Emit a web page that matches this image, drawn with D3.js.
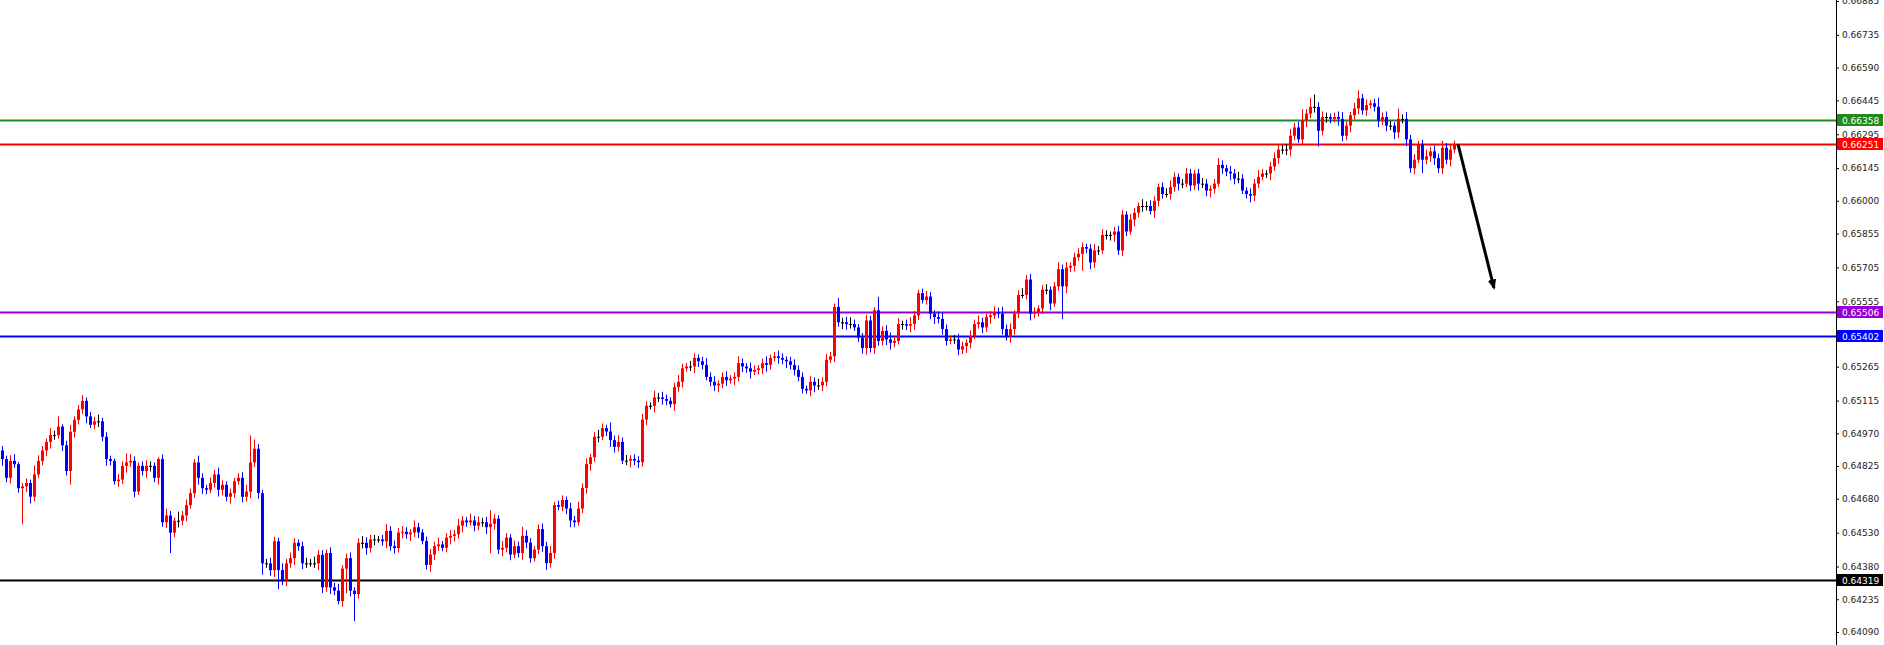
<!DOCTYPE html>
<html>
<head>
<meta charset="utf-8">
<script src="https://cdn.jsdelivr.net/npm/d3@7"></script>
<style>
  html, body { margin: 0; padding: 0; background: #fff; }
  svg { display: block; }
</style>
</head>
<body>
<div id="app"></div>
<script>
'use strict'

// prices are stored as offsets from 0.64000 in 1e-5 units
const base = 0.64

const closes = [
  856,773,848,833,727,735,750,689,788,848,894,932,962,962,1000,917,803,977,1030,1076,
  1114,1045,1008,1023,1023,955,856,848,758,765,826,841,848,712,826,803,826,826,773,856,
  576,606,530,583,583,606,652,705,841,773,727,720,750,788,720,742,689,705,758,773,
  689,712,841,902,705,394,394,364,492,364,318,394,417,485,470,394,394,394,394,432,
  288,440,288,273,227,371,417,273,258,485,485,462,500,500,500,492,538,470,462,530,
  534,523,531,554,531,493,387,433,470,478,463,508,516,523,561,584,576,584,561,576,
  576,554,569,592,455,463,508,433,470,440,516,486,417,455,546,470,395,440,652,645,
  675,637,584,576,637,728,834,864,955,955,993,978,940,910,932,849,849,857,849,842,
  1031,1092,1092,1129,1129,1122,1114,1099,1175,1198,1258,1266,1266,1304,1289,1273,1220,1198,1182,1190,
  1220,1205,1213,1220,1281,1266,1258,1243,1251,1258,1281,1273,1304,1311,1304,1296,1289,1273,1251,1220,
  1167,1160,1198,1182,1182,1198,1296,1311,1530,1462,1462,1454,1454,1439,1394,1348,1470,1348,1515,1379,
  1424,1386,1371,1379,1454,1454,1447,1454,1492,1591,1560,1576,1500,1485,1477,1432,1379,1386,1386,1341,
  1356,1371,1401,1454,1462,1439,1485,1492,1507,1500,1432,1401,1432,1500,1583,1583,1651,1500,1507,1523,
  1606,1606,1545,1621,1697,1621,1704,1712,1750,1765,1795,1788,1727,1780,1780,1849,1849,1849,1864,1780,
  1939,1864,1917,1947,1977,1977,1977,1955,2000,2061,2030,2030,2061,2106,2076,2076,2121,2068,2121,2076,
  2076,2045,2053,2076,2159,2144,2129,2121,2098,2098,2045,2030,2023,2076,2106,2121,2121,2152,2189,2227,
  2227,2227,2288,2325,2272,2356,2386,2416,2416,2310,2371,2371,2363,2371,2363,2288,2333,2379,2409,2454,
  2401,2424,2432,2416,2356,2371,2333,2333,2303,2363,2363,2272,2144,2182,2250,2182,2197,2219,2189,2144,
  2235,2182,2227,2251
]

const wickUp = [
  20,15,25,30,10,15,20,15,40,25,20,15,30,20,45,10,20,30,15,20,
  25,15,20,20,30,15,20,15,10,25,20,40,30,20,15,20,25,20,15,10,
  20,30,20,15,40,20,25,20,15,30,20,15,25,20,30,20,15,20,15,20,
  25,30,120,40,20,15,20,25,20,15,30,20,25,20,15,20,25,20,30,20,
  20,15,25,20,30,15,20,25,15,20,30,25,20,20,15,20,30,20,25,20,
  25,20,15,30,20,15,20,25,20,30,15,20,25,20,30,20,15,30,20,25,
  20,25,60,20,15,30,20,15,25,20,40,25,20,15,20,25,20,30,15,20,
  20,15,25,20,30,20,25,15,20,30,20,15,40,20,30,20,25,15,20,20,
  25,20,15,30,20,25,20,15,20,30,20,15,25,20,15,20,30,20,25,15,
  20,25,15,20,30,20,15,25,20,15,20,30,15,20,25,20,15,20,25,20,
  20,15,25,20,30,20,25,20,15,40,20,25,30,20,15,20,25,20,15,60,
  20,25,30,20,25,15,20,30,20,15,20,25,20,15,25,30,20,15,20,25,
  20,15,25,20,30,20,15,20,25,20,30,20,25,15,20,30,20,25,20,15,
  20,25,15,20,30,20,25,15,20,25,20,15,20,30,20,25,20,15,20,25,
  20,15,25,20,15,30,20,25,20,15,20,25,30,20,15,20,25,20,15,20,
  25,20,15,20,30,20,15,25,20,30,20,15,25,20,30,20,15,20,25,20,
  20,25,30,20,25,50,20,40,55,20,25,20,15,20,25,30,20,15,25,35,
  20,25,15,20,40,20,25,20,15,45,20,30,20,25,15,20,30,20,25,20,
  30,20,25,15
]

const wickDn = [
  30,20,25,15,20,160,25,30,20,15,20,25,30,20,15,25,20,60,25,20,
  20,30,15,20,25,20,30,20,15,25,20,30,20,25,15,20,30,25,20,30,
  20,25,90,20,30,20,25,15,20,30,25,20,15,20,30,25,20,30,20,15,
  25,20,30,20,25,50,20,25,30,85,20,25,20,30,20,25,20,15,20,30,
  25,20,30,20,15,25,110,25,120,20,25,30,20,25,15,20,30,20,25,20,
  25,20,30,20,25,15,20,30,25,20,15,20,30,25,20,30,20,15,25,20,
  20,30,115,25,20,30,20,25,15,20,30,25,20,15,20,25,30,20,25,15,
  20,25,30,20,15,20,25,30,20,25,15,20,30,25,20,15,20,30,20,25,
  20,25,15,30,20,25,20,15,30,20,25,15,20,30,25,20,15,20,25,30,
  20,25,15,30,20,25,20,30,15,20,25,30,20,15,25,20,30,20,25,20,
  20,15,25,30,20,25,20,15,25,20,30,25,20,15,20,25,30,20,25,20,
  20,25,30,20,15,25,20,30,25,20,15,20,25,30,20,25,20,15,20,25,
  20,30,25,15,20,25,20,30,15,20,25,20,30,25,20,15,20,30,20,20,
  25,20,30,15,20,145,30,20,25,15,75,20,30,25,20,15,20,25,30,20,
  25,20,15,30,20,25,20,15,30,25,20,15,25,20,30,20,15,25,20,30,
  20,25,30,20,15,25,20,30,25,20,15,20,30,25,20,15,20,30,20,25,
  20,25,30,20,15,25,30,20,25,70,20,25,20,15,30,25,20,30,20,25,
  20,25,15,20,30,20,25,20,30,25,20,30,20,25,15,60,20,25,30,20,
  25,20,30,15
]

const tickValues = [0.66885,0.66735,0.66590,0.66445,0.66295,0.66145,0.66000,0.65855,0.65705,0.65555,
  0.65265,0.65115,0.64970,0.64825,0.64680,0.64530,0.64380,0.64235,0.64090]

const levels = [
  { price: 0.66358, color: '#1f8a1f' },
  { price: 0.66251, color: '#ff0000' },
  { price: 0.65506, color: '#9400d3' },
  { price: 0.65402, color: '#0000ff' },
  { price: 0.64319, color: '#000000' }
]

// projected move: from last candle down toward the purple zone
const arrowFrom = { i: 364, price: 0.66251 }
const arrowTo = { i: 373, price: 0.65614 }

const W = 1884, H = 645
const axisX = 1836

const svg = d3.select('#app').append('svg')
  .attr('width', W).attr('height', H)
  .style('font-family', 'DejaVu Sans, sans-serif')

const x = d3.scaleLinear().domain([0, 364]).range([2, 1458])
const y = d3.scaleLinear().domain([0.64090, 0.66885]).range([632, 1])

const candles = closes.map((c, i) => {
  const o = i === 0 ? 894 : closes[i - 1]
  return {
    i,
    open: base + o / 1e5,
    close: base + c / 1e5,
    high: base + (Math.max(o, c) + wickUp[i]) / 1e5,
    low: base + (Math.min(o, c) - wickDn[i]) / 1e5
  }
})
const colorOf = d => d.close > d.open ? '#ff0000' : d.close < d.open ? '#0000ff' : '#000000'

// level lines
svg.selectAll('.level')
  .data(levels)
  .enter().append('line')
  .attr('x1', 0).attr('x2', axisX)
  .attr('y1', d => Math.round(y(d.price)) + 0.5)
  .attr('y2', d => Math.round(y(d.price)) + 0.5)
  .attr('stroke', d => d.color)
  .attr('stroke-width', 2)

// candles
const g = svg.append('g')
g.selectAll('.wick')
  .data(candles)
  .enter().append('line')
  .attr('x1', d => Math.round(x(d.i)) + 0.5)
  .attr('x2', d => Math.round(x(d.i)) + 0.5)
  .attr('y1', d => y(d.high))
  .attr('y2', d => y(d.low))
  .attr('stroke', colorOf)
  .attr('stroke-width', 1)

g.selectAll('.body')
  .data(candles)
  .enter().append('rect')
  .attr('x', d => Math.round(x(d.i)) - 1)
  .attr('width', 3)
  .attr('y', d => y(Math.max(d.open, d.close)))
  .attr('height', d => Math.max(1, Math.abs(y(d.open) - y(d.close))))
  .attr('fill', colorOf)

// arrow
const defs = svg.append('defs')
defs.append('marker')
  .attr('id', 'head')
  .attr('viewBox', '0 0 10 10')
  .attr('refX', 8).attr('refY', 5)
  .attr('markerWidth', 3.5).attr('markerHeight', 3.5)
  .attr('orient', 'auto')
  .append('path').attr('d', 'M0,1 L10,5 L0,9 Z').attr('fill', '#000')

svg.append('line')
  .attr('x1', x(arrowFrom.i)).attr('y1', y(arrowFrom.price))
  .attr('x2', x(arrowTo.i)).attr('y2', y(arrowTo.price))
  .attr('stroke', '#000').attr('stroke-width', 3)
  .attr('marker-end', 'url(#head)')

// right price axis
svg.append('rect')
  .attr('x', axisX).attr('y', 0).attr('width', W - axisX).attr('height', H)
  .attr('fill', '#fff')
svg.append('line')
  .attr('x1', axisX + 0.5).attr('x2', axisX + 0.5)
  .attr('y1', 0).attr('y2', H)
  .attr('stroke', '#000')

const axis = svg.append('g').attr('transform', `translate(${axisX}, 0)`)
  .call(d3.axisRight(y).tickValues(tickValues).tickSize(3).tickFormat(d3.format('.5f')))
axis.select('.domain').remove()
axis.selectAll('text')
  .attr('x', 6)
  .style('font-size', '9px')
  .style('font-family', 'DejaVu Sans, sans-serif')
  .attr('fill', '#222')

const tags = svg.selectAll('.tag')
  .data(levels)
  .enter().append('g')
  .attr('transform', d => `translate(${axisX + 1}, ${Math.round(y(d.price))})`)
tags.append('rect')
  .attr('x', 0).attr('y', -6).attr('width', 46).attr('height', 12)
  .attr('fill', d => d.color)
tags.append('text')
  .attr('x', 5).attr('y', 3.5)
  .style('font-size', '9px')
  .attr('fill', '#fff')
  .text(d => d.price.toFixed(5))
</script>
</body>
</html>
